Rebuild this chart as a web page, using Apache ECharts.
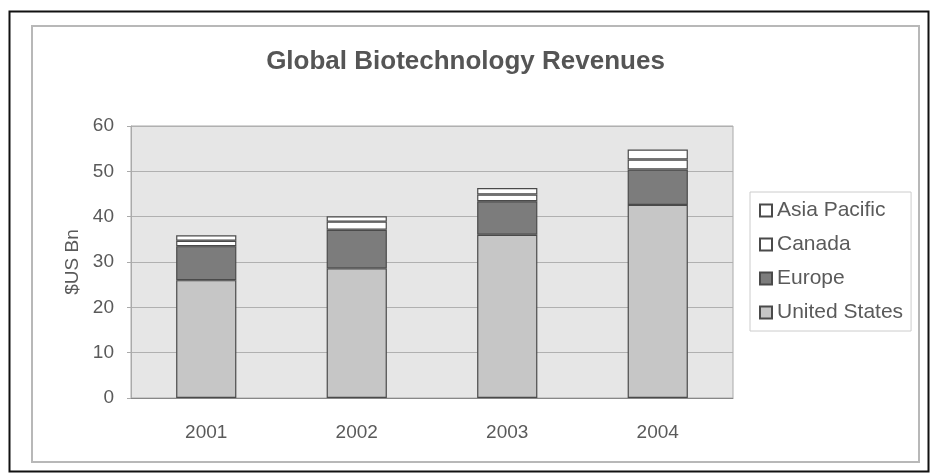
<!DOCTYPE html>
<html>
<head>
<meta charset="utf-8">
<script src="https://cdn.jsdelivr.net/npm/echarts@6/dist/echarts.min.js"></script>
<style>html,body{margin:0;padding:0;background:#fff;}#c{width:931px;height:474px;}</style>
</head>
<body>
<div id="c"></div>
<script>
const categories = ['2001', '2002', '2003', '2004'];
const unitedStates = [26.0, 28.6, 36.0, 42.6];
const europe = [7.5, 8.5, 7.4, 7.8];
const canada = [1.2, 1.8, 1.5, 2.2];
const asiaPacific = [1.2, 1.2, 1.4, 2.2];
const yTicks = [0, 10, 20, 30, 40, 50, 60];

const chart = echarts.init(document.getElementById('c'), null, {renderer: 'canvas'});
const txt = '#5a5a5a';
const font = 'Liberation Sans, Arial, sans-serif';
const barStyle = (c) => ({color: c, borderColor: '#4a4a4a', borderWidth: 1.2});
chart.setOption({
  animation: false,
  backgroundColor: '#fff',
  textStyle: {fontFamily: font},
  title: {
    text: 'Global Biotechnology Revenues',
    left: 'center', top: 44,
    textStyle: {fontSize: 26, fontWeight: 'bold', color: '#555', fontFamily: font}
  },
  graphic: [
    {type: 'rect', shape: {x: 9.5, y: 11.5, width: 919, height: 460}, style: {fill: 'none', stroke: '#111', lineWidth: 2}, silent: true, z: -10},
    {type: 'rect', shape: {x: 32, y: 26, width: 887, height: 436}, style: {fill: 'none', stroke: '#b8b8b8', lineWidth: 2}, silent: true, z: -10}
  ],
  grid: {left: 131, right: 198, top: 126, bottom: 76, show: true, backgroundColor: '#e6e6e6', borderColor: '#aaa', borderWidth: 1},
  legend: {
    orient: 'vertical', left: 750, top: 192,
    data: ['Asia Pacific', 'Canada', 'Europe', 'United States'],
    itemWidth: 12, itemHeight: 12, itemGap: 13,
    padding: [8, 8, 8, 9],
    borderColor: '#ccc', borderWidth: 1, backgroundColor: '#fff',
    textStyle: {fontSize: 21, color: txt, fontFamily: font},
    icon: 'rect'
  },
  xAxis: {
    type: 'category', data: categories,
    axisLine: {lineStyle: {color: '#888'}},
    axisTick: {show: false},
    axisLabel: {fontSize: 19, color: txt, margin: 25, fontFamily: font}
  },
  yAxis: {
    type: 'value', min: yTicks[0], max: yTicks[yTicks.length - 1], interval: 10,
    name: '$US Bn', nameLocation: 'middle', nameGap: 48,
    nameTextStyle: {fontSize: 19, color: txt, fontFamily: font},
    axisLine: {show: true, lineStyle: {color: '#aaa'}},
    axisTick: {show: true, length: 4, lineStyle: {color: '#aaa'}},
    axisLabel: {fontSize: 19, color: txt, margin: 17, fontFamily: font},
    splitLine: {lineStyle: {color: '#b0b0b0', width: 1}}
  },
  series: [
    {name: 'United States', type: 'bar', stack: 't', data: unitedStates, barWidth: '40%', itemStyle: barStyle('#c6c6c6')},
    {name: 'Europe', type: 'bar', stack: 't', data: europe, itemStyle: barStyle('#7c7c7c')},
    {name: 'Canada', type: 'bar', stack: 't', data: canada, itemStyle: barStyle('#ffffff')},
    {name: 'Asia Pacific', type: 'bar', stack: 't', data: asiaPacific, itemStyle: barStyle('#ffffff')}
  ]
});
</script>
</body>
</html>
